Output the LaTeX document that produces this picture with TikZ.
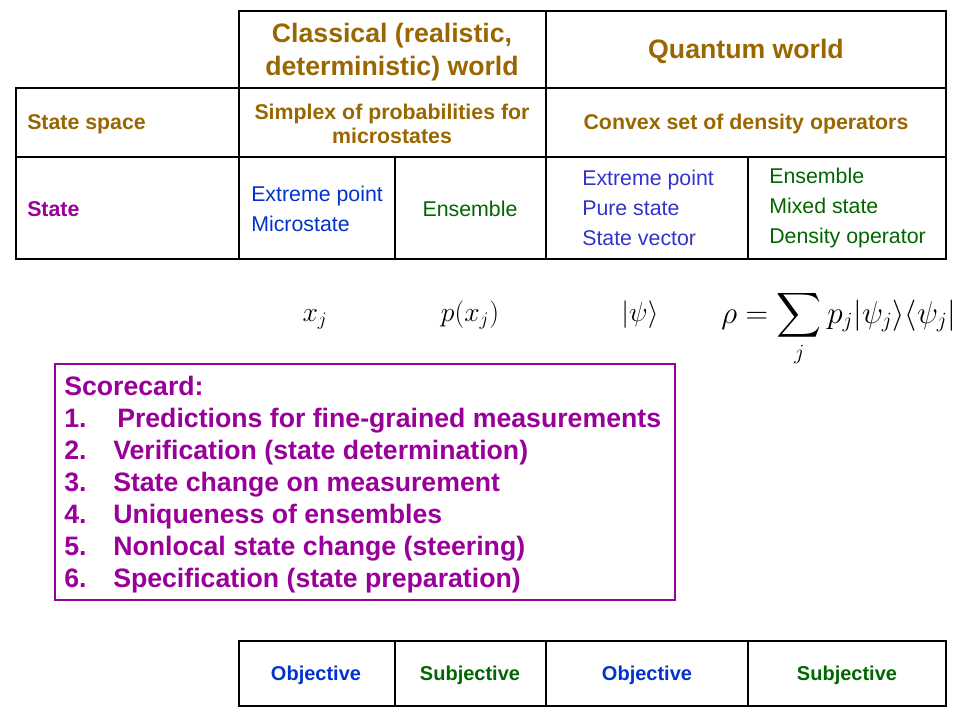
\documentclass[tikz,border=0pt]{standalone}
\usepackage{fontspec}
\setmainfont{Liberation Sans}
\usepackage{amsmath}
\usepackage{tikz}
\usetikzlibrary{positioning}
\definecolor{hdbrown}{RGB}{153,102,0}
\definecolor{stpurple}{RGB}{153,0,153}
\definecolor{clblue}{RGB}{0,51,204}
\definecolor{qublue}{RGB}{51,51,204}
\definecolor{engreen}{RGB}{0,102,0}
\tikzstyle{tableline} = [line width=2pt, draw=black]
\tikzstyle{cardframe} = [line width=2pt, draw=stpurple]
\newcommand{\cardno}[2][36.75pt]{\makebox[#1][l]{#2}}

\begin{document}
\begin{tikzpicture}[
    x=0.75pt, y=-0.75pt,
    head/.style={font=\bfseries\fontsize{20}{24.5}\selectfont, text=hdbrown, align=center, inner sep=0pt},
    rowhead/.style={font=\bfseries\fontsize{16}{18}\selectfont, text=hdbrown, align=center, inner sep=0pt},
    entry/.style={font=\fontsize{16}{22.5}\selectfont, align=left, anchor=west, inner sep=0pt},
    verdict/.style={font=\bfseries\fontsize{15}{18}\selectfont, inner sep=0pt},
    formula/.style={font=\fontsize{20}{24}\selectfont, inner sep=0pt, anchor=base}
]
\useasboundingbox (0,0) rectangle (960,720);

% Table lines
\draw[tableline] (239,11) rectangle (946,88);
\draw[tableline] (546,11) -- (546,88);
\draw[tableline] (16,88) rectangle (946,259);
\draw[tableline] (16,157) -- (946,157);
\draw[tableline] (239,88) -- (239,259);
\draw[tableline] (546,88) -- (546,259);
\draw[tableline] (395,157) -- (395,259);
\draw[tableline] (748,157) -- (748,259);

% Header
\node[head] (classical) at (392,52) {Classical (realistic,\\deterministic) world};
\node[head] (quantum) at (746,51) {Quantum world};

% State space row
\node[rowhead, anchor=west] (statespace) at (27,124) {State space};
\node[rowhead] (simplex) at (392,124) {Simplex of probabilities for\\microstates};
\node[rowhead] (convex) at (746,124) {Convex set of density operators};

% State row
\node[rowhead, anchor=west, text=stpurple] (state) at (27,209) {State};
\node[entry, text=clblue] (clpoint) at (251,209) {Extreme point\\Microstate};
\node[entry, anchor=center, text=engreen] (clens) at (470,209) {Ensemble};
\node[entry, text=qublue] (qupoint) at (582,208) {Extreme point\\Pure state\\State vector};
\node[entry, text=engreen] (quens) at (769,208) {Ensemble\\Mixed state\\Density operator};

% Formulas
\node[formula] (xj) at (315,321) {$x_j$};
\node[formula] (pxj) at (470,321) {$p(x_j)$};
\node[formula] (ket) at (640,321) {$|\psi\rangle$};
\node[formula, anchor=base west] (rho) at (721,323) {\scalebox{1.13}{$\displaystyle \rho = \sum_j p_j|\psi_j\rangle\langle\psi_j|$}};

% Scorecard
\draw[cardframe] (55,364) rectangle (675,600);
\node[font=\bfseries\fontsize{20}{24}\selectfont, text=stpurple, align=left, anchor=west, inner sep=0pt] (scorecard) at (64,485) {Scorecard:\\
\cardno[39.75pt]{1.}Predictions for fine-grained measurements\\
\cardno{2.}Verification (state determination)\\
\cardno{3.}State change on measurement\\
\cardno{4.}Uniqueness of ensembles\\
\cardno{5.}Nonlocal state change (steering)\\
\cardno{6.}Specification (state preparation)};

% Bottom row
\draw[tableline] (239,641) rectangle (946,706);
\draw[tableline] (395,641) -- (395,706);
\draw[tableline] (546,641) -- (546,706);
\draw[tableline] (748,641) -- (748,706);
\node[verdict, text=clblue] (clobj) at (316,675) {Objective};
\node[verdict, text=engreen] (clsubj) at (470,675) {Subjective};
\node[verdict, text=clblue] (quobj) at (647,675) {Objective};
\node[verdict, text=engreen] (qusubj) at (847,675) {Subjective};

\end{tikzpicture}
\end{document}
